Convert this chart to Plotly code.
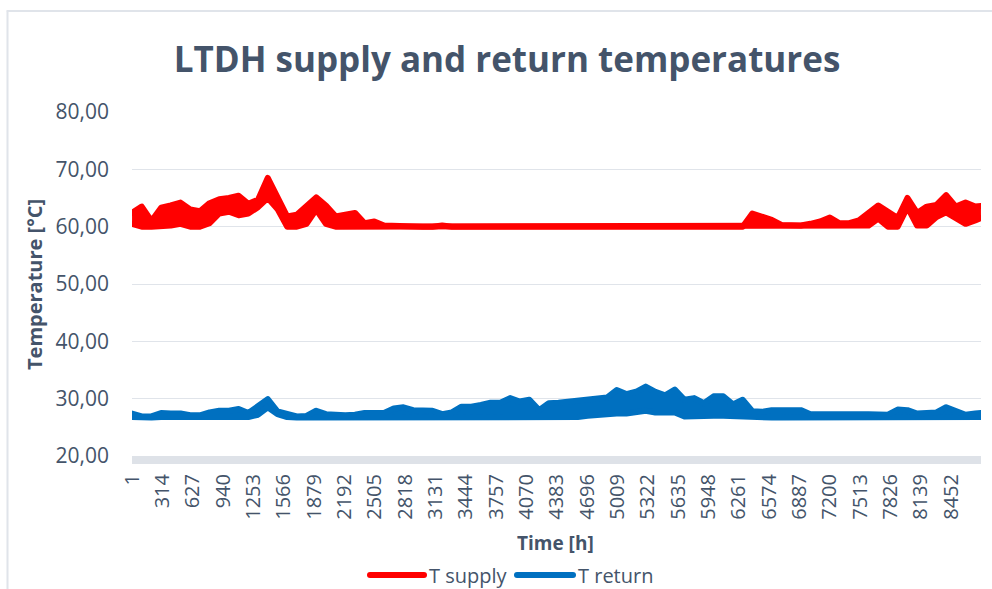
import plotly.graph_objects as go

# ---- data: hourly district-heating temperatures, read as the lowest and highest
# value around each sample hour (deg C)
sample_hours = list(range(1, 8761, 100)) + [8760]

supply_low = [
    60.5, 60.0, 60.0, 60.0, 60.2, 60.5, 60.0, 60.0, 60.6, 62.3,
    62.6, 62.0, 62.3, 63.4, 65.0, 63.1, 60.0, 60.0, 60.5, 63.0,
    60.5, 60.0, 60.0, 60.0, 60.0, 60.0, 60.0, 60.0, 60.0, 60.0,
    60.0, 60.0, 60.0, 60.0, 60.0, 60.0, 60.0, 60.0, 60.0, 60.0,
    60.0, 60.0, 60.0, 60.0, 60.0, 60.0, 60.0, 60.0, 60.0, 60.0,
    60.0, 60.0, 60.0, 60.0, 60.0, 60.0, 60.0, 60.0, 60.0, 60.0,
    60.0, 60.0, 60.0, 60.0, 60.0, 60.0, 60.0, 60.0, 60.0, 60.0,
    60.0, 60.0, 60.0, 60.0, 60.0, 60.0, 60.2, 61.4, 60.0, 60.0,
    63.4, 60.2, 60.2, 61.7, 62.5, 61.5, 60.5, 61.1, 61.5,
]
supply_high = [
    62.4, 63.5, 61.0, 63.3, 63.7, 64.2, 63.0, 62.7, 64.1, 64.8,
    65.0, 65.4, 64.0, 64.7, 68.5, 65.0, 61.8, 62.1, 63.5, 65.1,
    63.7, 61.8, 62.1, 62.4, 60.6, 60.9, 60.2, 60.1, 60.2, 60.0,
    60.0, 60.0, 60.2, 60.0, 60.0, 60.0, 60.0, 60.0, 60.0, 60.0,
    60.0, 60.0, 60.0, 60.0, 60.0, 60.0, 60.0, 60.0, 60.0, 60.0,
    60.0, 60.0, 60.0, 60.0, 60.0, 60.0, 60.0, 60.0, 60.0, 60.0,
    60.0, 60.0, 60.0, 60.0, 62.3, 61.8, 61.2, 60.3, 60.2, 60.2,
    60.5, 60.9, 61.6, 60.6, 60.6, 61.1, 62.4, 63.7, 62.6, 61.5,
    65.0, 62.4, 63.5, 63.8, 65.5, 63.5, 64.2, 63.5, 63.6,
]
return_low = [
    26.8, 26.7, 26.7, 26.8, 26.8, 26.8, 26.8, 26.8, 26.8, 26.8,
    26.8, 26.8, 26.8, 27.2, 28.5, 27.3, 26.8, 26.7, 26.7, 26.8,
    26.8, 26.7, 26.7, 26.8, 26.8, 26.8, 26.8, 26.8, 26.8, 26.7,
    26.7, 26.7, 26.8, 26.8, 26.8, 26.8, 26.8, 26.8, 26.8, 26.8,
    26.8, 26.8, 26.7, 26.8, 26.8, 26.8, 26.8, 27.0, 27.2, 27.2,
    27.4, 27.4, 27.6, 27.9, 27.6, 27.5, 27.6, 26.9, 27.0, 27.0,
    27.0, 27.0, 26.9, 27.0, 26.7, 26.7, 26.7, 26.7, 26.7, 26.7,
    26.7, 26.7, 26.7, 26.7, 26.7, 26.7, 26.7, 26.7, 26.7, 26.8,
    26.8, 26.7, 26.7, 26.7, 26.8, 26.7, 26.7, 26.7, 26.8,
]
return_high = [
    27.4, 26.9, 26.9, 27.5, 27.4, 27.4, 27.1, 27.1, 27.6, 27.9,
    27.9, 28.2, 27.5, 28.6, 29.9, 27.8, 27.3, 26.9, 27.0, 27.9,
    27.3, 27.1, 27.1, 27.2, 27.5, 27.5, 27.5, 28.3, 28.5, 28.0,
    27.9, 27.9, 27.3, 27.6, 28.6, 28.6, 28.9, 29.3, 29.3, 30.1,
    29.5, 29.8, 28.0, 29.2, 29.3, 29.5, 29.7, 29.9, 30.2, 30.2,
    31.5, 30.8, 31.2, 32.1, 31.2, 30.6, 31.6, 29.8, 30.1, 29.2,
    30.4, 30.4, 29.0, 29.8, 27.8, 27.7, 28.0, 28.0, 28.0, 28.0,
    27.3, 27.4, 27.3, 27.3, 27.2, 27.3, 27.3, 27.3, 27.2, 28.1,
    28.0, 27.4, 27.5, 27.6, 28.5, 27.8, 27.2, 27.4, 27.5,
]

x_tick_hours = [1, 314, 627, 940, 1253, 1566, 1879, 2192, 2505, 2818, 3131,
                3444, 3757, 4070, 4383, 4696, 5009, 5322, 5635, 5948, 6261,
                6574, 6887, 7200, 7513, 7826, 8139, 8452]
y_ticks = [20, 30, 40, 50, 60, 70, 80]
y_tick_text = ["20,00", "30,00", "40,00", "50,00", "60,00", "70,00", "80,00"]

TEXT = "#44546A"
GRID = "#E0E4EA"
RED = "#FF0000"
BLUE = "#0070C0"
FONT = "Open Sans"

W, H = 992, 589
ML, MR, MT, MB = 132, 11, 112, 133
PW, PH = W - ML - MR, H - MT - MB


def px_x(px):
    return (px - ML) / PW


def px_y(py):
    return (H - MB - py) / PH


fig = go.Figure()
# each series: its low and high readings as thick lines, the hourly swing
# between them shaded in the same colour
for name, lows, highs, colour in [
    ("T supply", supply_low, supply_high, RED),
    ("T return", return_low, return_high, BLUE),
]:
    fig.add_trace(go.Scatter(x=sample_hours, y=lows, mode="lines",
                             name=name, legendgroup=name,
                             line=dict(color=colour, width=6),
                             hoverinfo="skip"))
    fig.add_trace(go.Scatter(x=sample_hours, y=highs, mode="lines",
                             name=name, legendgroup=name,
                             line=dict(color=colour, width=6),
                             fill="tonexty", fillcolor=colour,
                             hoverinfo="skip"))

# legend drawn below the axis title
legend_items = [("T supply", RED, 370, 424), ("T return", BLUE, 517, 573)]
shapes = []
annotations = []
for label, colour, x0, x1 in legend_items:
    shapes.append(dict(type="line", xref="paper", yref="paper",
                       x0=px_x(x0), x1=px_x(x1), y0=px_y(575), y1=px_y(575),
                       line=dict(color=colour, width=6)))
    annotations.append(dict(text=label, xref="paper", yref="paper",
                            x=px_x(x1 + 3), y=px_y(575), xanchor="left",
                            yanchor="middle", showarrow=False,
                            font=dict(family=FONT, size=20, color=TEXT)))

# chart-area border (top and left edges)
shapes.append(dict(type="line", xref="paper", yref="paper",
                   x0=px_x(7.5), x1=px_x(1000), y0=px_y(11), y1=px_y(11),
                   line=dict(color=GRID, width=2)))
shapes.append(dict(type="line", xref="paper", yref="paper",
                   x0=px_x(7.5), x1=px_x(7.5), y0=px_y(11), y1=px_y(600),
                   line=dict(color=GRID, width=2)))

annotations.append(dict(text="<b>Temperature [°C]</b>", xref="paper", yref="paper",
                        x=px_x(34), y=px_y(285), textangle=-90,
                        xanchor="center", yanchor="middle", showarrow=False,
                        font=dict(family=FONT, size=20, color=TEXT)))
annotations.append(dict(text="<b>Time [h]</b>", xref="paper", yref="paper",
                        x=px_x(555), y=px_y(543),
                        xanchor="center", yanchor="middle", showarrow=False,
                        font=dict(family=FONT, size=19, color=TEXT)))

fig.update_layout(
    width=W, height=H,
    margin=dict(l=ML, r=MR, t=MT, b=MB, autoexpand=False),
    paper_bgcolor="white", plot_bgcolor="white",
    showlegend=False,
    font=dict(family=FONT, color=TEXT),
    title=dict(text="<b>LTDH supply and return temperatures</b>",
               xref="paper", x=px_x(507), xanchor="center",
               yref="container", y=1 - 60 / H, yanchor="middle",
               font=dict(family=FONT, size=35, color=TEXT)),
    xaxis=dict(range=[0.5, 8760.5], tickmode="array", tickvals=x_tick_hours,
               ticktext=[str(v) for v in x_tick_hours], tickangle=-90,
               tickfont=dict(family=FONT, size=20, color=TEXT),
               showgrid=False, zeroline=False,
               showline=True, linecolor="#DEE2E8", linewidth=8,
               ticks="", ticklabelstandoff=2),
    yaxis=dict(range=[20, 80], tickmode="array", tickvals=y_ticks,
               ticktext=y_tick_text,
               tickfont=dict(family=FONT, size=21, color=TEXT),
               showgrid=True, gridcolor=GRID, gridwidth=1.3,
               zeroline=False, showline=False,
               ticks="", ticklabelstandoff=22),
    shapes=shapes,
    annotations=annotations,
)

round_joins = (
    "var gd = document.getElementById('{plot_id}');"
    "gd.querySelectorAll('.scatterlayer path.js-line, .shapelayer path')"
    ".forEach(function(p){"
    "p.style.strokeLinejoin='round';p.style.strokeLinecap='round';});"
)
fig.write_html("out.html", post_script=round_joins)
